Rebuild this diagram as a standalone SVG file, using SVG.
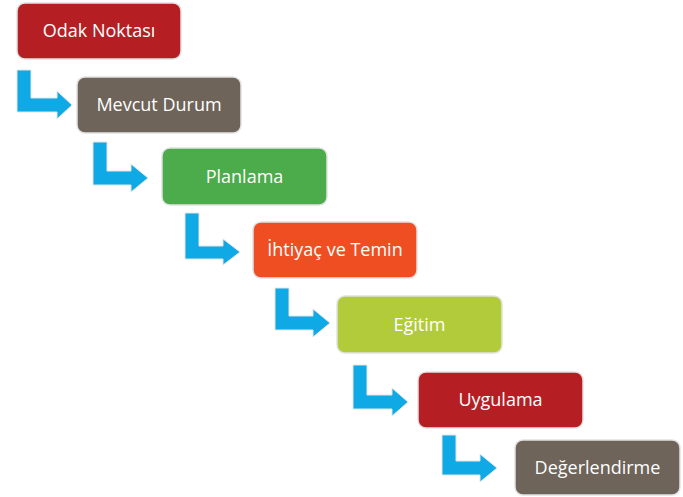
<svg xmlns="http://www.w3.org/2000/svg" width="683" height="497" viewBox="0 0 683 497">
<style>
.box{stroke:#e2e2e2;stroke-width:1.5}
.lbl{font-family:"Open Sans","Liberation Sans",sans-serif;font-size:18px;fill:#ffffff;text-anchor:middle}
.arr{fill:#0fa9e6;stroke:#e4e4e4;stroke-width:1}
.red{fill:#b51f24}.brn{fill:#6e645a}.grn{fill:#4cab4a}.org{fill:#ef4e23}.lim{fill:#b2cb3a}
</style>
<rect width="683" height="497" fill="#ffffff"/>
<g id="connectors">
<path class="arr" d="M17,70 H31 V98 H57 V91 L72,105 L57,119 V112 H17 Z"/>
<path class="arr" d="M93,142 H107 V171 H131 V164 L148,178 L131,192 V185 H93 Z"/>
<path class="arr" d="M185,213 H199 V246 H223 V239 L240,252 L223,265 V259 H185 Z"/>
<path class="arr" d="M275,288 H289 V316 H313 V309 L330,323 L313,337 V330 H275 Z"/>
<path class="arr" d="M353,365 H367 V395 H392 V388 L408,402 L392,416 V409 H353 Z"/>
<path class="arr" d="M442,435 H456 V461 H480 V454 L497,468 L480,482 V475 H442 Z"/>
</g>
<g id="n1"><rect class="box red" x="17" y="3" width="164" height="56" rx="8"/><text class="lbl" x="99" y="37">Odak Noktası</text></g>
<g id="n2"><rect class="box brn" x="77" y="77" width="164" height="56" rx="8"/><text class="lbl" x="159" y="111">Mevcut Durum</text></g>
<g id="n3"><rect class="box grn" x="162" y="148" width="165" height="57" rx="8"/><text class="lbl" x="244.5" y="183">Planlama</text></g>
<g id="n4"><rect class="box org" x="253" y="222" width="164" height="56" rx="8"/><text class="lbl" x="335" y="256">İhtiyaç ve Temin</text></g>
<g id="n5"><rect class="box lim" x="337" y="296" width="165" height="57" rx="8"/><text class="lbl" x="419.5" y="331">Eğitim</text></g>
<g id="n6"><rect class="box red" x="418" y="372" width="165" height="56" rx="8"/><text class="lbl" x="500.5" y="406">Uygulama</text></g>
<g id="n7"><rect class="box brn" x="515" y="440" width="165" height="55" rx="8"/><text class="lbl" x="597.5" y="474">Değerlendirme</text></g>
</svg>
